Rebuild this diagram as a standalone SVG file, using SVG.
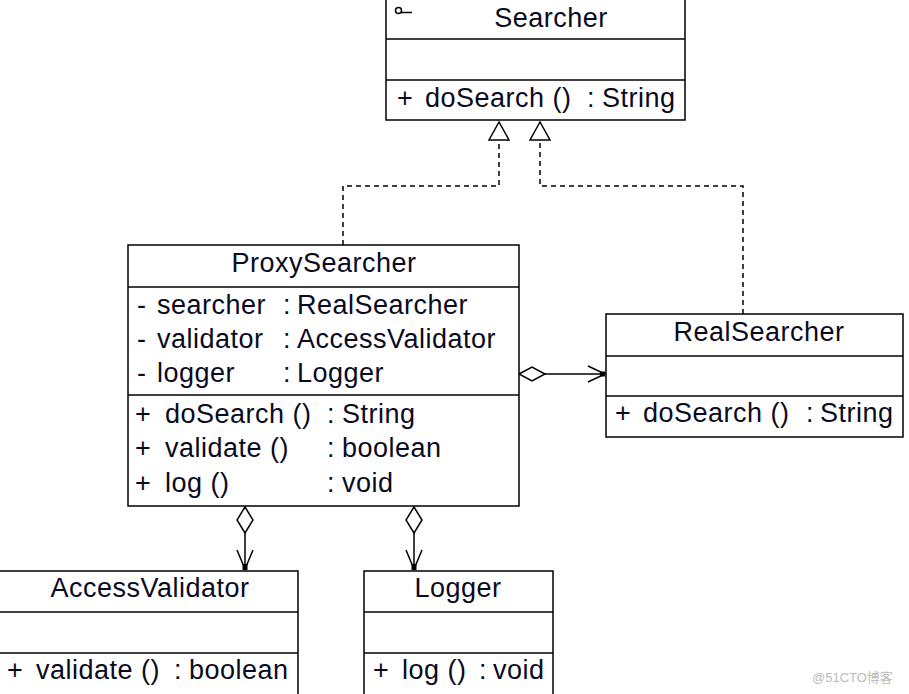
<svg xmlns="http://www.w3.org/2000/svg" width="909" height="694" viewBox="0 0 909 694">
<style>
.box{fill:#fff;stroke:#000;stroke-width:1.5}
.sep{stroke:#000;stroke-width:1.5}
text{font-family:"Liberation Sans",Arial,sans-serif;font-size:27px;letter-spacing:0.5px;fill:#0a0a1e}
.t{text-anchor:middle}
.dash{fill:none;stroke:#000;stroke-width:1.5;stroke-dasharray:5,4}
.ln{fill:none;stroke:#000;stroke-width:1.5}
.wm{font-size:13px;letter-spacing:0;fill:#bbb;font-family:"Liberation Sans","Noto Sans CJK SC",sans-serif}
</style>
<rect width="909" height="694" fill="#fff"/>

<g id="connectors">
<!-- realizations -->
<path class="dash" d="M343,245 V186 H499 V140"/>
<path class="dash" d="M743,314 V186 H540 V140"/>
<path d="M499,122 L489,140 L509,140 Z" fill="#fff" stroke="#000" stroke-width="1.5"/>
<path d="M540,122 L530,140 L550,140 Z" fill="#fff" stroke="#000" stroke-width="1.5"/>
<!-- ProxySearcher -> RealSearcher -->
<path d="M519,374 L532,367 L545,374 L532,381 Z" fill="#fff" stroke="#000" stroke-width="1.5"/>
<line class="ln" x1="545" y1="374" x2="605" y2="374"/>
<path class="ln" d="M588,366 L605,374 L588,382"/>
<rect x="600" y="371.5" width="5" height="5" fill="#000"/>
<!-- ProxySearcher -> AccessValidator -->
<path d="M245,507 L253,520 L245,533 L237,520 Z" fill="#fff" stroke="#000" stroke-width="1.5"/>
<line class="ln" x1="245" y1="533" x2="245" y2="570"/>
<path class="ln" d="M237,550 L245,569 L253,550"/>
<rect x="242.5" y="564" width="5" height="6" fill="#000"/>
<!-- ProxySearcher -> Logger -->
<path d="M414,507 L422,520 L414,533 L406,520 Z" fill="#fff" stroke="#000" stroke-width="1.5"/>
<line class="ln" x1="414" y1="533" x2="414" y2="570"/>
<path class="ln" d="M406,550 L414,569 L422,550"/>
<rect x="411.5" y="564" width="5" height="6" fill="#000"/>
</g>

<g id="Searcher">
<rect class="box" x="386" y="-3" width="299" height="123"/>
<line class="sep" x1="386" y1="39" x2="685" y2="39"/>
<line class="sep" x1="386" y1="80" x2="685" y2="80"/>
<circle cx="398.5" cy="10.5" r="3" fill="none" stroke="#000" stroke-width="1.5"/>
<line class="ln" x1="401" y1="12.5" x2="412" y2="12.5"/>
<text class="t" x="551" y="27">Searcher</text>
<text y="107"><tspan x="397">+</tspan><tspan x="425">doSearch ()</tspan><tspan x="587">:</tspan><tspan x="602">String</tspan></text>
</g>

<g id="ProxySearcher">
<rect class="box" x="128" y="245" width="391" height="261"/>
<line class="sep" x1="128" y1="287" x2="519" y2="287"/>
<line class="sep" x1="128" y1="395" x2="519" y2="395"/>
<text class="t" x="324" y="272">ProxySearcher</text>
<text y="314"><tspan x="137">-</tspan><tspan x="157">searcher</tspan><tspan x="283">:</tspan><tspan x="297">RealSearcher</tspan></text>
<text y="348"><tspan x="137">-</tspan><tspan x="157">validator</tspan><tspan x="283">:</tspan><tspan x="297">AccessValidator</tspan></text>
<text y="382"><tspan x="137">-</tspan><tspan x="157">logger</tspan><tspan x="283">:</tspan><tspan x="297">Logger</tspan></text>
<text y="423"><tspan x="135">+</tspan><tspan x="165">doSearch ()</tspan><tspan x="327">:</tspan><tspan x="342">String</tspan></text>
<text y="457"><tspan x="135">+</tspan><tspan x="165">validate ()</tspan><tspan x="327">:</tspan><tspan x="342">boolean</tspan></text>
<text y="492"><tspan x="135">+</tspan><tspan x="165">log ()</tspan><tspan x="327">:</tspan><tspan x="342">void</tspan></text>
</g>

<g id="RealSearcher">
<rect class="box" x="606" y="314" width="297" height="123"/>
<line class="sep" x1="606" y1="356" x2="903" y2="356"/>
<line class="sep" x1="606" y1="396" x2="903" y2="396"/>
<text class="t" x="759" y="341">RealSearcher</text>
<text y="422"><tspan x="615">+</tspan><tspan x="643">doSearch ()</tspan><tspan x="806">:</tspan><tspan x="820">String</tspan></text>
</g>

<g id="AccessValidator">
<rect class="box" x="-3" y="571" width="301" height="130"/>
<line class="sep" x1="-3" y1="612" x2="298" y2="612"/>
<line class="sep" x1="-3" y1="653" x2="298" y2="653"/>
<text class="t" x="150" y="597">AccessValidator</text>
<text y="679"><tspan x="7">+</tspan><tspan x="36">validate ()</tspan><tspan x="174">:</tspan><tspan x="189">boolean</tspan></text>
</g>

<g id="Logger">
<rect class="box" x="364" y="571" width="189" height="130"/>
<line class="sep" x1="364" y1="612" x2="553" y2="612"/>
<line class="sep" x1="364" y1="653" x2="553" y2="653"/>
<text class="t" x="458" y="597">Logger</text>
<text y="679"><tspan x="373">+</tspan><tspan x="402">log ()</tspan><tspan x="479">:</tspan><tspan x="493">void</tspan></text>
</g>

<text class="wm" x="812" y="682">@51CTO博客</text>
</svg>
